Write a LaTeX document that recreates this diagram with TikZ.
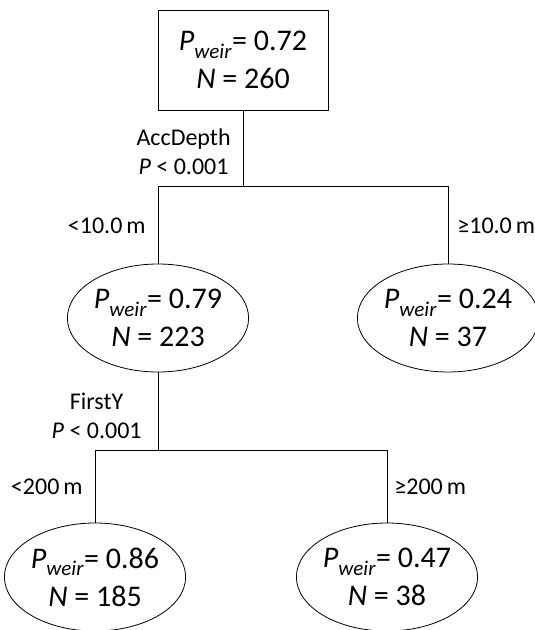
\documentclass[tikz,border=0pt]{standalone}
\usepackage{fontspec}
\setmainfont{Carlito}
\usetikzlibrary{shapes.geometric,positioning,calc}

\newcommand{\pweir}{\textit{P}\raisebox{-0.05em}{\textsubscript{\textit{weir}}}}

\begin{document}
\begin{tikzpicture}[x=1pt,y=-1pt,line width=0.8pt,
    rootbox/.style={draw,rectangle,minimum width=170pt,minimum height=100pt,
      align=center,font=\fontsize{30}{38}\selectfont},
    leaf/.style={draw,ellipse,minimum width=162pt,minimum height=108pt,
      inner sep=0pt,align=center,font=\fontsize{30}{38}\selectfont},
    lbl/.style={align=center,inner sep=0pt,font=\fontsize{24}{29}\selectfont}]
  \useasboundingbox (0,0) rectangle (535,630);

  % tree nodes
  \node[rootbox] (root) at (243,60) {\pweir{}= 0.72\\\textit{N} = 260};
  \node[leaf] (n2) at (158,318) {\pweir{}= 0.79\\\textit{N} = 223};
  \node[leaf] (n3) at (448,318) {\pweir{}= 0.24\\\textit{N} = 37};
  \node[leaf] (n4) at (95,577) {\pweir{}= 0.86\\\textit{N} = 185};
  \node[leaf] (n5) at (387,577) {\pweir{}= 0.47\\\textit{N} = 38};

  % first split
  \coordinate (s1) at ($(root.south)+(0,76)$);
  \draw (root.south) -- (s1);
  \draw (n2.north) |- (s1) -| (n3.north);
  \node[lbl,anchor=east] at ($(s1)+(-12,-35)$) {AccDepth\\\textit{P} < 0.001};
  \node[lbl,anchor=east] at ($(n2.north|-s1)+(-12,39)$) {<10.0\,m};
  \node[lbl,anchor=west] at ($(n3.north|-s1)+(9,39)$) {≥10.0\,m};

  % second split
  \coordinate (s2) at ($(n2.south)+(0,78)$);
  \draw (n2.south) -- (s2);
  \draw (n4.north) |- (s2) -| (n5.north);
  \node[lbl,anchor=east] at ($(s2)+(-16,-35)$) {FirstY\\\textit{P} < 0.001};
  \node[lbl,anchor=east] at ($(n4.north|-s2)+(-12,36)$) {<200\,m};
  \node[lbl,anchor=west] at ($(n5.north|-s2)+(7,36)$) {≥200\,m};
\end{tikzpicture}
\end{document}
